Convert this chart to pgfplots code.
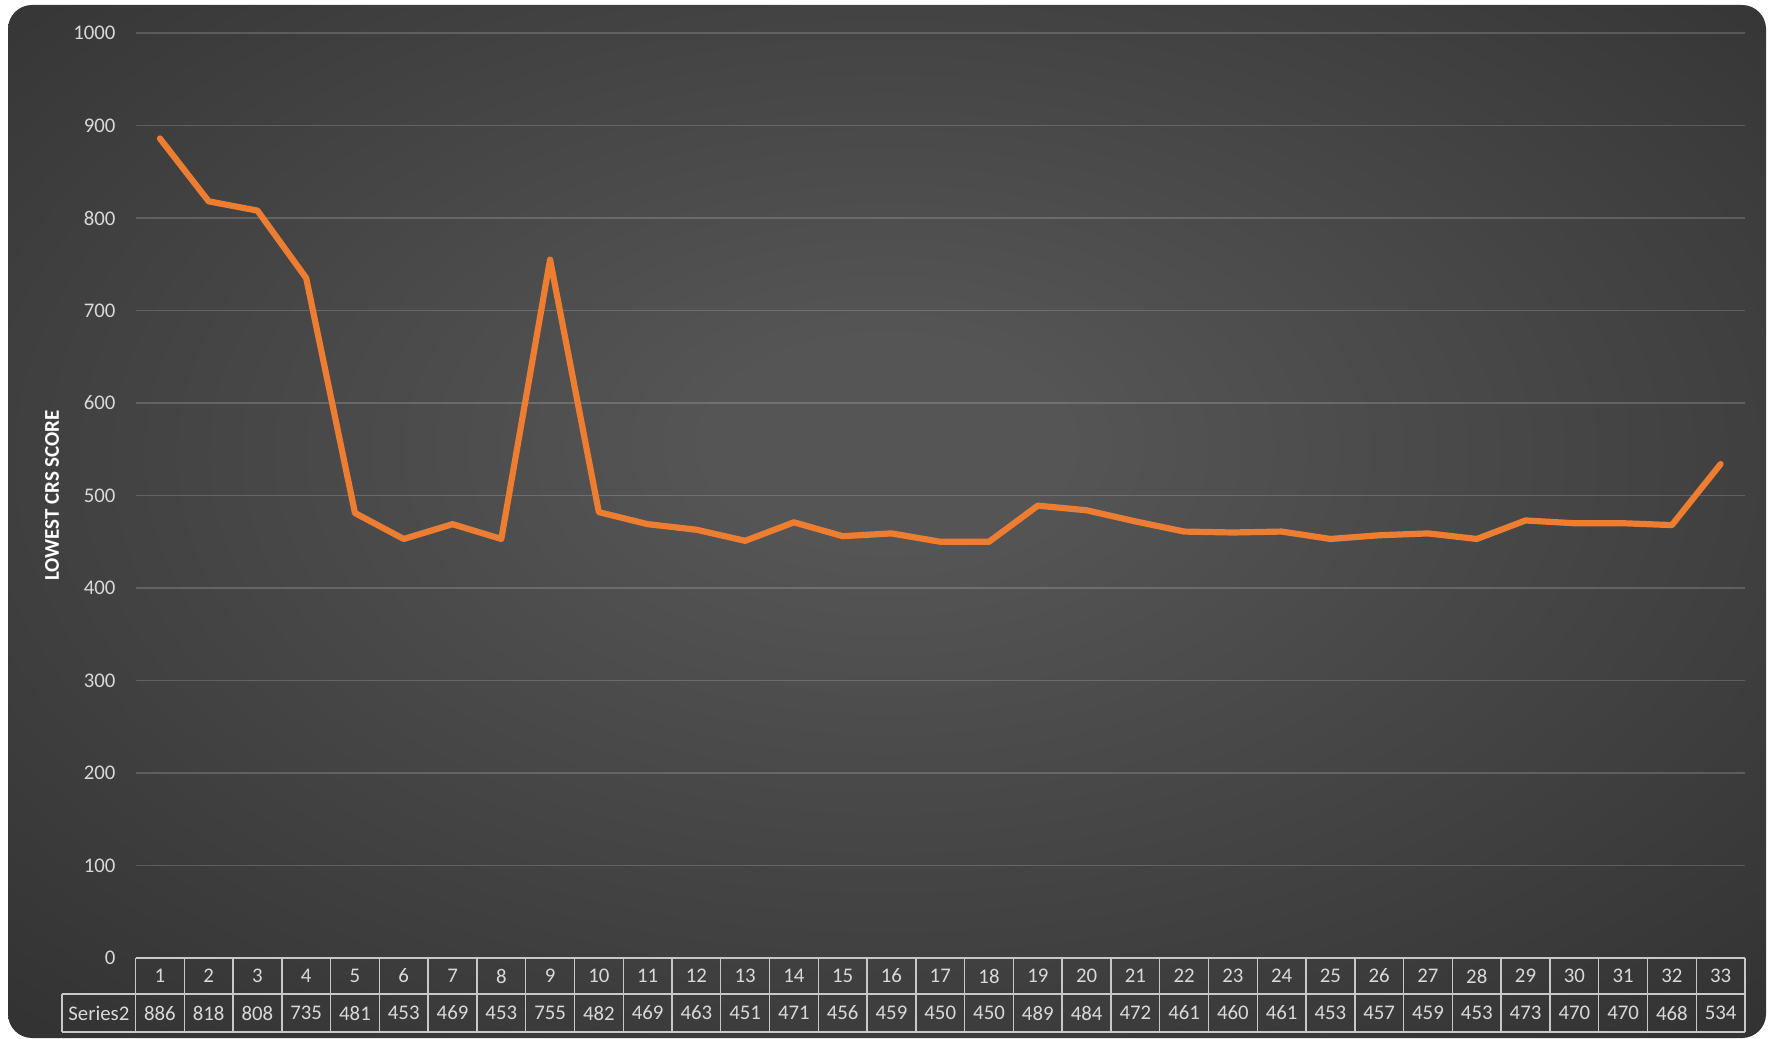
\documentclass[border=0pt]{standalone}
\usepackage{pgfplots}
\pgfplotsset{compat=1.18}
\usepackage{pgfplotstable}
\usepackage{fontspec}
\setmainfont{Carlito}
\definecolor{bgin}{HTML}{555555}
\definecolor{bgout}{HTML}{222222}
\definecolor{tickc}{HTML}{D9D9D9}
\definecolor{linec}{HTML}{ED7D31}
\definecolor{tabc}{HTML}{C8C8C8}
\pgfdeclareradialshading{bgshade}{\pgfpoint{0bp}{4bp}}{color(0bp)=(bgin); color(5bp)=(bgin); color(52bp)=(bgout); color(100bp)=(bgout)}
\pgfplotstableread{
x y
1 886
2 818
3 808
4 735
5 481
6 453
7 469
8 453
9 755
10 482
11 469
12 463
13 451
14 471
15 456
16 459
17 450
18 450
19 489
20 484
21 472
22 461
23 460
24 461
25 453
26 457
27 459
28 453
29 473
30 470
31 470
32 468
33 534
}\data
\begin{document}
\begin{tikzpicture}
\useasboundingbox (0,0) rectangle (885.5pt,519pt);
\fill[white] (0,0) rectangle (885.5pt,519pt);
\shade[shading=bgshade, rounded corners=12pt] (4pt,0pt) rectangle (883pt,516.5pt);
\begin{axis}[
  at={(67.75pt,40pt)}, anchor=south west,
  scale only axis, width=804.75pt, height=462.5pt,
  xmin=0.5, xmax=33.5, ymin=0, ymax=1000,
  clip=false,
  axis line style={draw=none},
  major tick length=0pt,
  ytick={0,100,...,1000},
  xtick={1,...,33},
  /pgf/number format/assume math mode=true,
  /pgf/number format/1000 sep={},
  ymajorgrids,
  major grid style={draw=white, draw opacity=0.17, line width=0.7pt},
  ticklabel style={font=\fontsize{10.4}{12}\selectfont, text=tickc},
  yticklabel style={xshift=-6.5pt},
  xticklabel style={anchor=center, yshift=-9pt},
  ylabel={LOWEST CRS SCORE},
  ylabel style={at={(axis description cs:-0.0519,0.5)}, anchor=center, font=\bfseries\fontsize{10.5}{12}\selectfont, text=white},
]
\addplot[linec, line width=3.1pt, line join=round, line cap=round, mark=none] table[x=x,y=y]{\data};
\addplot[draw=none, mark=none, nodes near coords, point meta=explicit,
  nodes near coords style={anchor=center, font=\fontsize{10.4}{12}\selectfont, text=tickc}]
  table[x=x, y expr=-59.46, meta=y]{\data};
\pgfplotsinvokeforeach{0.5,1.5,...,33.5}{\draw[tabc, line width=0.7pt] (axis cs:#1,0) -- (axis cs:#1,-80);}
\draw[tabc, line width=0.7pt] (axis cs:0.5,0) -- (axis cs:33.5,0);
\draw[tabc, line width=0.7pt] (axis cs:-1.007,-38.9) -- (axis cs:33.5,-38.9);
\draw[tabc, line width=0.7pt] (axis cs:-1.007,-80) -- (axis cs:33.5,-80);
\draw[tabc, line width=0.7pt] (axis cs:-1.007,-38.9) -- (axis cs:-1.007,-80);
\node[font=\fontsize{10.4}{12}\selectfont, text=tickc] at (axis cs:-0.25,-59.46) {Series2};
\end{axis}
\end{tikzpicture}
\end{document}
